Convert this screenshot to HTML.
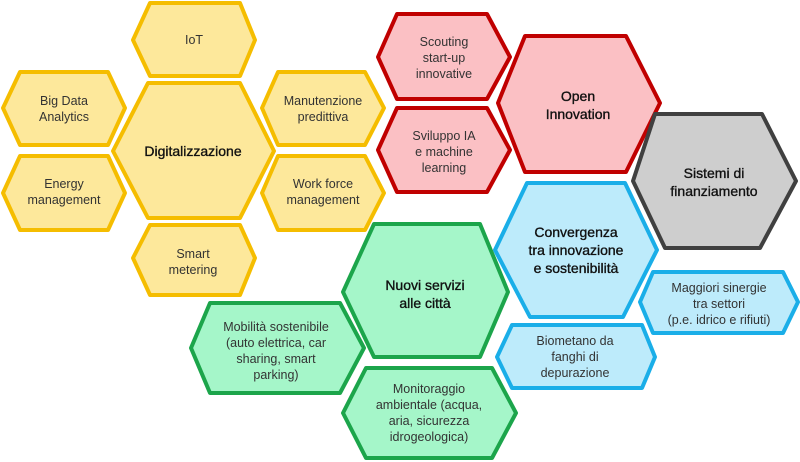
<!DOCTYPE html>
<html><head><meta charset="utf-8"><style>
html,body{margin:0;padding:0;background:#fff;}
svg{display:block;}
text{font-family:"Liberation Sans",sans-serif;text-anchor:middle;}
.s{font-size:12.5px;fill:#333;}
.b{font-size:14px;fill:#111;stroke:#111;stroke-width:0.35;}
.y{fill:#fde89b;stroke:#f5bd00;stroke-width:4;stroke-linejoin:round;}
.r{fill:#fbc0c4;stroke:#c00000;stroke-width:4;stroke-linejoin:round;}
.g{fill:#cecece;stroke:#404040;stroke-width:4;stroke-linejoin:round;}
.c{fill:#bdebfb;stroke:#1aaee8;stroke-width:4;stroke-linejoin:round;}
.n{fill:#a5f6c9;stroke:#1ca54b;stroke-width:4;stroke-linejoin:round;}
</style></head><body>
<svg width="800" height="462" viewBox="0 0 800 462">
<!-- yellow -->
<polygon class="y" points="133,40 150,3 240,3 255,40 240,76 150,76"/>
<text class="s" x="194" y="44">IoT</text>
<polygon class="y" points="3,108 20,72 108,72 125,108 108,145 20,145"/>
<text class="s" x="64" y="105">Big Data</text><text class="s" x="64" y="121">Analytics</text>
<polygon class="y" points="3,193 20,156 108,156 125,193 108,230 20,230"/>
<text class="s" x="64" y="188">Energy</text><text class="s" x="64" y="204">management</text>
<polygon class="y" points="113,151 148,83 240,83 274,151 240,218 148,218"/>
<text class="b" x="193" y="156">Digitalizzazione</text>
<polygon class="y" points="262,108 278,72 365,72 384,108 365,145 278,145"/>
<text class="s" x="323" y="105">Manutenzione</text><text class="s" x="323" y="121">predittiva</text>
<polygon class="y" points="262,193 278,156 365,156 384,193 365,230 278,230"/>
<text class="s" x="323" y="188">Work force</text><text class="s" x="323" y="204">management</text>
<polygon class="y" points="133,258 150,225 240,225 255,258 240,295 150,295"/>
<text class="s" x="193" y="258">Smart</text><text class="s" x="193" y="274">metering</text>
<!-- red -->
<polygon class="r" points="378,57 397,14 487,14 510,57 487,99 397,99"/>
<text class="s" x="444" y="46">Scouting</text><text class="s" x="444" y="62">start-up</text><text class="s" x="444" y="78">innovative</text>
<polygon class="r" points="378,150 397,108 487,108 510,150 487,192 397,192"/>
<text class="s" x="444" y="140">Sviluppo IA</text><text class="s" x="444" y="156">e machine</text><text class="s" x="444" y="172">learning</text>
<polygon class="r" points="498,103 525,36 626,36 660,103 626,172 525,172"/>
<text class="b" x="578" y="101">Open</text><text class="b" x="578" y="119">Innovation</text>
<!-- gray -->
<polygon class="g" points="633,181 655,114 762,114 796,181 760,248 665,248"/>
<text class="b" x="714" y="178">Sistemi di</text><text class="b" x="714" y="196">finanziamento</text>
<!-- blue -->
<polygon class="c" points="495,250 527,183 625,183 657,250 623,317 530,317"/>
<text class="b" x="576" y="237">Convergenza</text><text class="b" x="576" y="255">tra innovazione</text><text class="b" x="576" y="273">e sostenibilità</text>
<polygon class="c" points="640,302 653,272 783,272 798,302 783,333 653,333"/>
<text class="s" x="719" y="292">Maggiori sinergie</text><text class="s" x="719" y="308">tra settori</text><text class="s" x="719" y="324">(p.e. idrico e rifiuti)</text>
<polygon class="c" points="497,357 512,325 642,325 655,357 642,388 512,388"/>
<text class="s" x="575" y="345">Biometano da</text><text class="s" x="575" y="361">fanghi di</text><text class="s" x="575" y="377">depurazione</text>
<!-- green -->
<polygon class="n" points="343,292 374,224 480,224 508,292 480,357 374,357"/>
<text class="b" x="425" y="290">Nuovi servizi</text><text class="b" x="425" y="308">alle città</text>
<polygon class="n" points="191,348 210,303 340,303 364,348 340,393 210,393"/>
<text class="s" x="276" y="331">Mobilità sostenibile</text><text class="s" x="276" y="347">(auto elettrica, car</text><text class="s" x="276" y="363">sharing, smart</text><text class="s" x="276" y="379">parking)</text>
<polygon class="n" points="343,413 366,368 492,368 516,413 492,458 366,458"/>
<text class="s" x="429" y="393">Monitoraggio</text><text class="s" x="429" y="409">ambientale (acqua,</text><text class="s" x="429" y="425">aria, sicurezza</text><text class="s" x="429" y="441">idrogeologica)</text>
</svg>
</body></html>
